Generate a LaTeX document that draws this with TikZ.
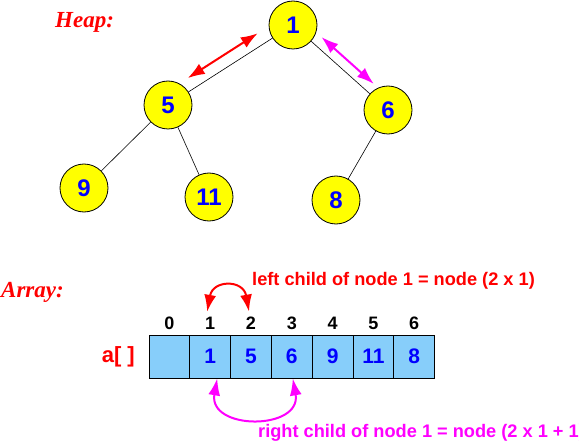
\documentclass[tikz,border=0pt]{standalone}
\usepackage{fontspec}
\setmainfont{Liberation Serif}
\setsansfont{Liberation Sans}
\usetikzlibrary{shapes,positioning,calc,arrows.meta}
\definecolor{cellblue}{RGB}{135,206,250}
\definecolor{nodeyellow}{RGB}{255,255,0}
\definecolor{linkred}{RGB}{255,0,0}
\definecolor{linkpink}{RGB}{255,0,255}
\definecolor{digitblue}{RGB}{0,0,255}

\begin{document}
\begin{tikzpicture}[x=1pt,y=-1pt,
  heapnode/.style={circle, draw, line width=0.8pt, fill=nodeyellow, minimum size=48pt, inner sep=0pt, text=digitblue, font=\sffamily\bfseries\fontsize{24}{28}\selectfont},
  relation/.style={rectangle split, rectangle split parts=#1, rectangle split horizontal, draw, line width=0.8pt, fill=cellblue, text width=40pt, align=center, inner xsep=0pt, minimum height=43pt, text=digitblue, font=\sffamily\bfseries\fontsize{21}{24}\selectfont},
  index/.style={inner sep=0pt, font=\sffamily\bfseries\fontsize{18}{20}\selectfont},
  heading/.style={inner sep=0pt, text=linkred, font=\bfseries\itshape\fontsize{23}{26}\selectfont},
  note/.style={inner sep=0pt, font=\sffamily\bfseries\fontsize{18.2}{20}\selectfont},
  swap/.style={<->, >={Latex[length=17pt,width=12pt]}, line width=2pt}]

\useasboundingbox (0,0) rectangle (579,441);

% HEAP

\node [heading, anchor=base west] (heaptitle) at (55,28) {Heap:};

\node [heapnode] (n1) at (293,25) {1};
\node [heapnode] (n5) at (168,105) {5};
\node [heapnode] (n6) at (388,110) {6};
\node [heapnode] (n9) at (84,188) {9};
\node [heapnode] (n11) at (209,197) {11};
\node [heapnode] (n8) at (336,200) {8};

\draw[line width=0.6pt] (n1) -- (n5);
\draw[line width=0.6pt] (n1) -- (n6);
\draw[line width=0.6pt] (n5) -- (n9);
\draw[line width=0.6pt] (n5) -- (n11);
\draw[line width=0.6pt] (n6) -- (n8);

\coordinate (leftfrom) at ($(n5)!0.21!(n1)!12pt!90:(n1)$);
\coordinate (leftto) at ($(n5)!0.77!(n1)!12pt!90:(n1)$);
\coordinate (rightfrom) at ($(n1)!0.23!(n6)!10pt!90:(n6)$);
\coordinate (rightto) at ($(n1)!0.78!(n6)!10pt!90:(n6)$);

\draw[swap, linkred] (leftfrom) -- (leftto);
\draw[swap, linkpink] (rightfrom) -- (rightto);

% ARRAY

\node [heading, anchor=base west] (arraytitle) at (1,298) {Array:};

\node [relation=7, anchor=west] (arr) at (149,356.5)
{%
\nodepart{two}   1
\nodepart{three} 5
\nodepart{four}  6
\nodepart{five}  9
\nodepart{six}   11
\nodepart{seven} 8};

\node [note, text=linkred, font=\sffamily\bfseries\fontsize{22}{24}\selectfont, left=14pt of arr.west] (aname) {a[ ]};

\node [index, above=5pt of arr.one north] (i0) {0};
\node [index, above=5pt of arr.two north] (i1) {1};
\node [index, above=5pt of arr.three north] (i2) {2};
\node [index, above=5pt of arr.four north] (i3) {3};
\node [index, above=5pt of arr.five north] (i4) {4};
\node [index, above=5pt of arr.six north] (i5) {5};
\node [index, above=5pt of arr.seven north] (i6) {6};

% CHILD LINKS

\draw[swap, linkred] ([xshift=-3pt,yshift=5pt]i1.north) to[out=80, in=100, looseness=2] ([xshift=-2pt,yshift=5pt]i2.north);
\node [note, text=linkred, anchor=base west] (leftnote) at (252,285) {left child of node 1 = node (2 x 1)};

\draw[swap, linkpink] ([xshift=7pt]arr.two south) to[out=-100, in=-80, looseness=1.8] ([xshift=1pt]arr.four south);
\node [note, text=linkpink, anchor=base west] (rightnote) at (258,437) {right child of node 1 = node (2 x 1 + 1)};

\end{tikzpicture}
\end{document}
